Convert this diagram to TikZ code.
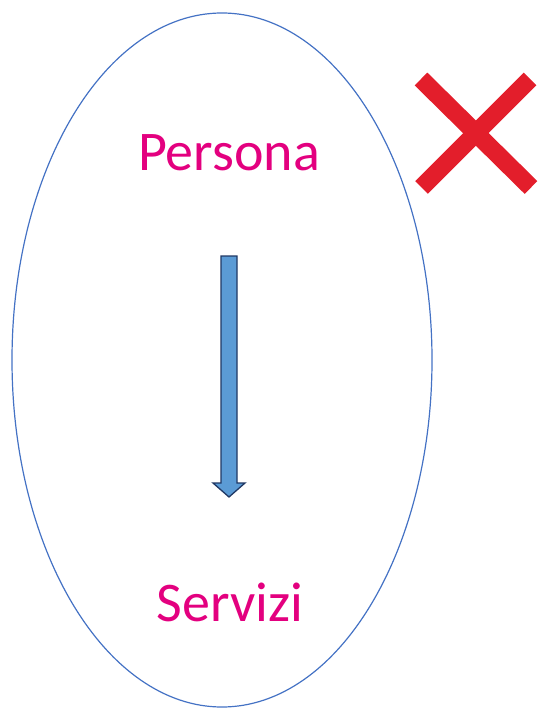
\documentclass[tikz,border=0pt]{standalone}
\usepackage{fontspec}
\setmainfont{Carlito}
\usetikzlibrary{calc}
\definecolor{ringblue}{HTML}{4472C4}
\definecolor{labelpink}{HTML}{E3007F}
\definecolor{arrowfill}{HTML}{5B9BD5}
\definecolor{arrowline}{HTML}{203864}
\definecolor{crossred}{HTML}{E31E2B}
\begin{document}
\begin{tikzpicture}[x=1pt,y=-1pt,
  label/.style={text=labelpink,font=\fontsize{56}{67}\selectfont,anchor=base,inner sep=0pt},
  ring/.style={draw=ringblue,line width=1.2pt},
  blockarrow/.style={draw=arrowline,fill=arrowfill,line width=1.3pt,line join=miter},
  cross/.style={draw=crossred,line width=18pt,line cap=butt}]
\useasboundingbox (0,0) rectangle (539,708);
\draw[ring] (222,360) ellipse [x radius=210, y radius=347];
\node[label] at (229,171) (persona) {Persona};
\node[label] at (230,621) (servizi) {Servizi};
\coordinate (from) at (229,256);
\coordinate (to) at (229,497);
\draw[blockarrow] ($(from)+(-8,0)$) -- ($(from)+(8,0)$) -- ($(to)+(8,-14)$)
  -- ($(to)+(16,-14)$) -- (to) -- ($(to)+(-16,-14)$) -- ($(to)+(-8,-14)$) -- cycle;
\draw[cross] (421,79) -- (531,187.5);
\draw[cross] (530,79) -- (421.5,187.5);
\end{tikzpicture}
\end{document}
